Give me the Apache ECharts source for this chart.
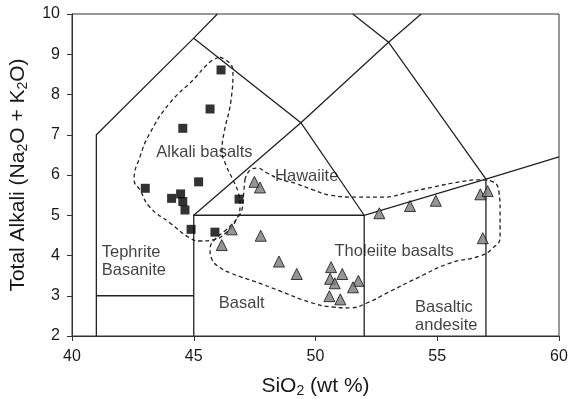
<!DOCTYPE html>
<html>
<head>
<meta charset="utf-8">
<script src="https://cdn.jsdelivr.net/npm/echarts@6/dist/echarts.min.js"></script>
<style>
html,body{margin:0;padding:0;background:#fff;}
#chart{width:570px;height:399px;}
</style>
</head>
<body>
<div id="chart"></div>
<script>
// Alkali basalt samples (squares)
const alkaliBasalts = [
  [46.12,8.61],[45.67,7.64],[44.55,7.16],[45.20,5.83],[43.01,5.67],[44.09,5.42],
  [44.46,5.53],[44.55,5.34],[44.64,5.13],[46.86,5.40],[44.89,4.65],[45.87,4.58]
];
// Tholeiite basalt / hawaiite samples (triangles)
const tholeiites = [
  [46.56,4.65],[46.15,4.26],[47.75,4.49],[48.50,3.85],[49.23,3.54],[47.49,5.83],[47.72,5.69],
  [52.62,5.05],[53.88,5.23],[54.94,5.36],[56.77,5.52],[57.07,5.60],[56.87,4.43],
  [50.64,3.71],[51.10,3.54],[50.60,3.42],[50.79,3.31],[51.76,3.37],[51.54,3.21],[50.57,2.99],[51.02,2.91]
];
// TAS field boundaries
const fieldLines = [
  [[41,2],[41,7],[45,9.4],[45.97,10]],
  [[41,3],[45,3]],
  [[45,2],[45,5],[52,5],[57,5.9],[60,6.45]],
  [[45,5],[49.4,7.3],[53,9.3],[54.34,10]],
  [[45,9.4],[49.4,7.3],[52,5]],
  [[51.53,10],[53,9.3],[57,5.9]],
  [[52,2],[52,5]],
  [[57,2],[57,5.9]]
];
// Dashed envelopes
const alkaliEnvelope = [
  [46.08,8.93],[46.61,8.61],[46.53,7.86],[46.24,7.04],[46.16,6.62],[46.32,6.25],[46.61,5.88],
  [46.82,5.58],[46.90,5.25],[46.74,4.88],[46.32,4.56],[45.79,4.39],[45.26,4.36],[44.85,4.43],
  [44.02,4.81],[43.20,5.20],[42.79,5.63],[42.55,5.88],[42.79,6.45],[43.20,7.04],[44.02,7.79],
  [44.97,8.36],[45.67,8.81],[46.08,8.93]
];
const tholeiiteEnvelope = [
  [47.10,5.88],[47.31,6.12],[47.60,6.17],[48.01,6.05],[48.54,5.90],[49.24,5.78],[49.90,5.63],
  [50.60,5.50],[51.70,5.45],[52.77,5.45],[53.88,5.58],[54.83,5.70],[55.93,5.83],[56.76,5.88],
  [57.29,5.83],[57.54,5.55],[57.58,5.13],[57.58,4.46],[57.29,4.19],[56.76,3.99],[55.52,3.81],
  [54.17,3.44],[52.94,3.07],[52.11,2.82],[51.42,2.70],[50.72,2.72],[49.77,2.84],[48.54,3.12],
  [47.52,3.35],[46.57,3.55],[46.08,3.70],[45.75,3.90],[45.67,4.15],[45.87,4.40],[46.30,4.62],
  [46.75,4.90],[47.00,5.20],[47.05,5.55],[47.10,5.88]
];
// Field / group labels: [x, y, text]
const centeredLabels = [
  [45.44,6.55,'Alkali basalts'],
  [49.64,5.96,'Hawaiite'],
  [53.23,4.09,'Tholeiite basalts'],
  [46.97,2.80,'Basalt']
];
const leftLabels = [
  [41.22,3.85,'Tephrite\nBasanite'],
  [54.09,2.48,'Basaltic\nandesite']
];
const xTicks = {min:40, max:60, interval:5};
const yTicks = {min:2, max:10, interval:1};

const FONT = "'Liberation Sans', Arial, Helvetica, sans-serif";
const chart = echarts.init(document.getElementById('chart'), null, {renderer:'canvas'});
const envStyle = {color:'#222', width:1.3, type:[4,3]};
const subRich = {sub:{fontSize:14, color:'#1a1a1a', fontFamily:FONT, verticalAlign:'bottom', padding:[10,0,0,0]}};
const option = {
  animation:false,
  backgroundColor:'#fff',
  grid:{left:72, right:11, top:14, bottom:63, show:true, borderColor:'#333', borderWidth:1,
        containLabel:false, outerBoundsMode:'none'},
  xAxis:{
    type:'value', min:xTicks.min, max:xTicks.max, interval:xTicks.interval,
    name:'SiO{sub|2} (wt %)', nameLocation:'middle', nameGap:38,
    nameTextStyle:{fontSize:21, color:'#1a1a1a', fontFamily:FONT, rich:subRich},
    axisLine:{show:true, lineStyle:{color:'#333', width:1}},
    axisTick:{show:true, inside:false, length:5, lineStyle:{color:'#333'}},
    axisLabel:{fontSize:16, color:'#1a1a1a', fontFamily:FONT, margin:13},
    splitLine:{show:false}
  },
  yAxis:{
    type:'value', min:yTicks.min, max:yTicks.max, interval:yTicks.interval,
    name:'Total Alkali (Na{sub|2}O + K{sub|2}O)', nameLocation:'middle', nameGap:42,
    nameTextStyle:{fontSize:21, color:'#1a1a1a', fontFamily:FONT, rich:subRich},
    axisLine:{show:true, lineStyle:{color:'#333', width:1}},
    axisTick:{show:true, inside:false, length:5, lineStyle:{color:'#333'}},
    axisLabel:{fontSize:16, color:'#1a1a1a', fontFamily:FONT, margin:12},
    splitLine:{show:false}
  },
  series:[
    {type:'lines', coordinateSystem:'cartesian2d', polyline:true, silent:true,
     lineStyle:{color:'#222', width:1.3, opacity:1},
     data:fieldLines.map(c=>({coords:c}))},
    {type:'line', data:alkaliEnvelope, smooth:0.5, symbol:'none', silent:true, lineStyle:envStyle},
    {type:'line', data:tholeiiteEnvelope, smooth:0.5, symbol:'none', silent:true, lineStyle:envStyle},
    {type:'scatter', data:alkaliBasalts, symbol:'rect', symbolSize:9,
     itemStyle:{color:'#000'}, z:5},
    {type:'scatter', data:tholeiites, symbol:'triangle', symbolSize:11,
     itemStyle:{color:'#7a7a7a', borderColor:'#111', borderWidth:1}, z:5},
    {type:'scatter', data:centeredLabels, symbolSize:0, silent:true, z:6,
     label:{show:true, position:'inside', formatter:p=>p.data[2], fontSize:16.5, color:'#111', fontFamily:FONT}},
    {type:'scatter', data:leftLabels, symbolSize:0, silent:true, z:6,
     label:{show:true, position:'right', distance:0, align:'left', formatter:p=>p.data[2], fontSize:16.5, lineHeight:18, color:'#111', fontFamily:FONT}}
  ]
};
chart.setOption(option);
</script>
</body>
</html>
